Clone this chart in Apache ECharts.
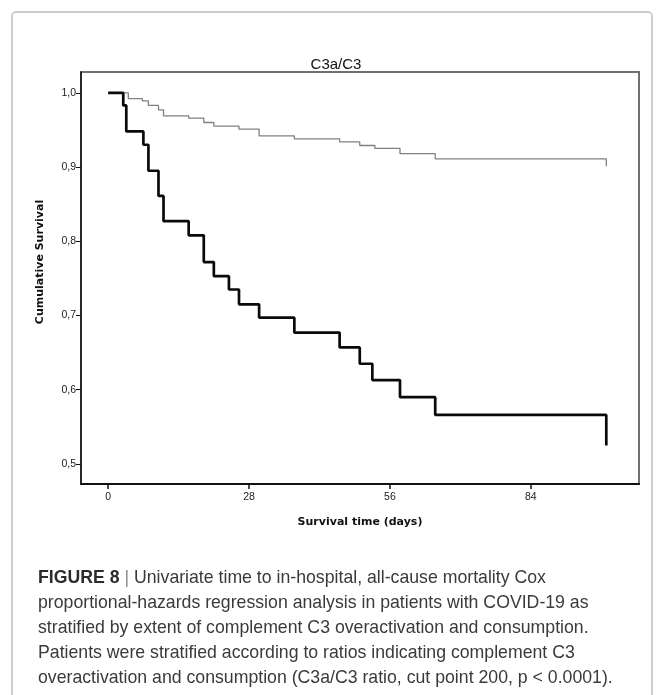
<!DOCTYPE html>
<html>
<head>
<meta charset="utf-8">
<script src="https://cdn.jsdelivr.net/npm/echarts@6/dist/echarts.min.js"></script>
<style>
html,body{margin:0;padding:0;background:#fff;}
#chart{width:663px;height:695px;}
</style>
</head>
<body>
<div id="chart"></div>
<script>
// Kaplan-Meier step points (time in days, cumulative survival)
const highTimes  = [0, 3, 3.6, 7, 8, 10, 11, 16, 19, 21, 24, 26, 30, 37, 46, 50, 52.5, 58, 65, 99];
const highValues = [1.0, 0.983, 0.948, 0.930, 0.895, 0.861, 0.827, 0.808, 0.772, 0.753, 0.735, 0.715, 0.697, 0.677, 0.657, 0.635, 0.613, 0.590, 0.566, 0.525];

const lowTimes  = [0, 4, 6.8, 8, 10, 11, 16, 19, 21, 26, 30, 37, 46, 50, 53, 58, 65, 99];
const lowValues = [1.0, 0.992, 0.989, 0.983, 0.977, 0.969, 0.966, 0.960, 0.955, 0.951, 0.942, 0.938, 0.934, 0.929, 0.925, 0.918, 0.911, 0.901];

const xTicks = [0, 28, 56, 84];
const yTicks = [0.5, 0.6, 0.7, 0.8, 0.9, 1.0];

const chartTitle = 'C3a/C3';
const xName = 'Survival time (days)';
const yName = 'Cumulative Survival';
const captionLabel = 'FIGURE 8';
const captionLines = [
  'Univariate time to in-hospital, all-cause mortality Cox',
  'proportional-hazards regression analysis in patients with COVID-19 as',
  'stratified by extent of complement C3 overactivation and consumption.',
  'Patients were stratified according to ratios indicating complement C3',
  'overactivation and consumption (C3a/C3 ratio, cut point 200, p < 0.0001).'
];

const zip = (a, b) => a.map((t, i) => [t, b[i]]);

const chart = echarts.init(document.getElementById('chart'), null, {renderer: 'canvas'});

const captionGraphics = [];
const capFont = '"Liberation Sans", Arial, sans-serif';
const capX = 38, capY0 = 579, capStep = 25, capSize = 17.7;
captionGraphics.push({
  type: 'text', left: capX, top: capY0 - 10,
  style: {
    text: '{b|' + captionLabel + '}{s| | }{n|' + captionLines[0] + '}',
    rich: {
      b: {fontFamily: capFont, fontSize: capSize, fontWeight: 'bold', fill: '#2b2b2b'},
      s: {fontFamily: capFont, fontSize: capSize, fill: '#8a8a8a'},
      n: {fontFamily: capFont, fontSize: capSize, fill: '#3a3a3a'}
    }
  }
});
for (let i = 1; i < captionLines.length; i++) {
  captionGraphics.push({
    type: 'text', left: capX, top: capY0 - 10 + i * capStep,
    style: {text: captionLines[i], fontFamily: capFont, fontSize: capSize, fill: '#3a3a3a'}
  });
}

chart.setOption({
  animation: false,
  backgroundColor: '#fff',
  title: {
    text: chartTitle,
    left: 331, top: 52, textAlign: 'center',
    textStyle: {fontFamily: 'Arial, "Liberation Sans", sans-serif', fontSize: 15, fontWeight: 'normal', color: '#111'}
  },
  graphic: [
    {type: 'rect', shape: {x: 12, y: 12, width: 640, height: 700, r: 4},
     style: {fill: 'none', stroke: '#bdbdbd', lineWidth: 1.5}, z: -1},
    {type: 'text', x: 40, y: 262, rotation: Math.PI / 2,
     style: {text: yName, fontFamily: '"DejaVu Sans", Verdana, sans-serif', fontSize: 11, fontWeight: 'bold',
             fill: '#111', align: 'center', verticalAlign: 'middle'}}
  ].concat(captionGraphics),
  grid: {left: 81, top: 72, right: 24, bottom: 211, show: true, borderColor: '#707070', borderWidth: 2, backgroundColor: '#fff'},
  xAxis: {
    type: 'value', min: -5.4, max: 105.5,
    name: xName, nameLocation: 'middle', nameGap: 33,
    nameTextStyle: {fontFamily: '"DejaVu Sans", Verdana, sans-serif', fontSize: 11, fontWeight: 'bold', color: '#111'},
    axisLine: {show: true, onZero: false, lineStyle: {color: '#111', width: 2}},
    axisTick: {show: true, inside: false, length: 5, customValues: xTicks, lineStyle: {color: '#111', width: 1.5}},
    axisLabel: {customValues: xTicks, fontFamily: 'Arial, "Liberation Sans", sans-serif', fontSize: 10.5, color: '#222', margin: 8},
    splitLine: {show: false}
  },
  yAxis: {
    type: 'value', min: 0.473, max: 1.028,
    axisLine: {show: true, onZero: false, lineStyle: {color: '#111', width: 1.5}},
    axisTick: {show: true, inside: false, length: 5, customValues: yTicks, lineStyle: {color: '#111', width: 1}},
    axisLabel: {customValues: yTicks, formatter: v => v.toFixed(1).replace('.', ','), fontFamily: 'Arial, "Liberation Sans", sans-serif', fontSize: 10.5, color: '#222', margin: 5},
    splitLine: {show: false}
  },
  series: [
    {type: 'line', step: 'end', data: zip(lowTimes, lowValues), symbol: 'none',
     lineStyle: {color: '#808080', width: 1.3}, z: 3},
    {type: 'line', step: 'end', data: zip(highTimes, highValues), symbol: 'none',
     lineStyle: {color: '#0a0a0a', width: 2.7}, z: 4}
  ]
});
</script>
</body>
</html>
